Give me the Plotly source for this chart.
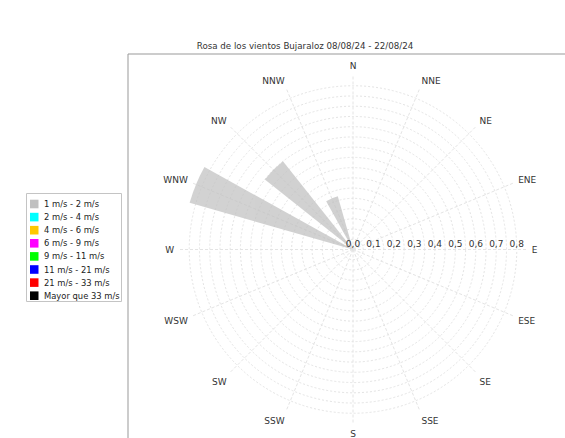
import plotly.graph_objects as go

# ---- data ----
directions = ["N", "NNE", "NE", "ENE", "E", "ESE", "SE", "SSE",
              "S", "SSW", "SW", "WSW", "W", "WNW", "NW", "NNW"]

speed_labels = ["1 m/s - 2 m/s", "2 m/s - 4 m/s", "4 m/s - 6 m/s", "6 m/s - 9 m/s",
                "9 m/s - 11 m/s", "11 m/s - 21 m/s", "21 m/s - 33 m/s", "Mayor que 33 m/s"]
speed_colors = ["#C0C0C0", "#00FFFF", "#FFC800", "#FF00FF",
                "#00FF00", "#0000FF", "#FF0000", "#000000"]

freq_1_2 = [0, 0, 0, 0, 0, 0, 0, 0, 0, 0, 0, 0, 0, 0.83, 0.55, 0.27]
freq_2_4 = [0, 0, 0, 0, 0, 0, 0, 0, 0, 0, 0, 0, 0, 0, 0, 0]
freq_4_6 = [0, 0, 0, 0, 0, 0, 0, 0, 0, 0, 0, 0, 0, 0, 0, 0]
freq_6_9 = [0, 0, 0, 0, 0, 0, 0, 0, 0, 0, 0, 0, 0, 0, 0, 0]
freq_9_11 = [0, 0, 0, 0, 0, 0, 0, 0, 0, 0, 0, 0, 0, 0, 0, 0]
freq_11_21 = [0, 0, 0, 0, 0, 0, 0, 0, 0, 0, 0, 0, 0, 0, 0, 0]
freq_21_33 = [0, 0, 0, 0, 0, 0, 0, 0, 0, 0, 0, 0, 0, 0, 0, 0]
freq_33 = [0, 0, 0, 0, 0, 0, 0, 0, 0, 0, 0, 0, 0, 0, 0, 0]

radial_tickvals = [0, 0.05, 0.1, 0.15, 0.2, 0.25, 0.3, 0.35, 0.4,
                   0.45, 0.5, 0.55, 0.6, 0.65, 0.7, 0.75, 0.8, 0.85]
radial_ticktext = ["0,0", "", "0,1", "", "0,2", "", "0,3", "", "0,4",
                   "", "0,5", "", "0,6", "", "0,7", "", "0,8", ""]

title_text = "Rosa de los vientos Bujaraloz 08/08/24 - 22/08/24"

series = [freq_1_2, freq_2_4, freq_4_6, freq_6_9, freq_9_11, freq_11_21, freq_21_33, freq_33]

FONT = "DejaVu Sans"
W, H = 565, 438
cx, cy, R = 353, 249.5, 174


def px(x):
    return x / W


def py(y):
    return 1 - y / H


fig = go.Figure()
for name, col, vals in zip(speed_labels, speed_colors, series):
    fig.add_trace(go.Barpolar(
        r=vals, theta=directions, name=name,
        width=0.58,
        marker=dict(color=col, line=dict(width=0)),
        opacity=1.0 if name != speed_labels[0] else 0.72,
        showlegend=False,
    ))

shapes = [
    dict(type="line", xref="paper", yref="paper", x0=px(128), x1=px(128), y0=0, y1=py(54),
         line=dict(color="#999999", width=1)),
    dict(type="line", xref="paper", yref="paper", x0=px(128), x1=1, y0=py(54), y1=py(54),
         line=dict(color="#999999", width=1)),
    # legend box
    dict(type="rect", xref="paper", yref="paper", x0=px(26.5), x1=px(121.5), y0=py(193.5), y1=py(301.5),
         line=dict(color="#c4c4c4", width=1), fillcolor="white", layer="below"),
]
annotations = []
row0, row_step = 204, 13.1
for i, (name, col) in enumerate(zip(speed_labels, speed_colors)):
    yc = row0 + i * row_step
    shapes.append(dict(type="rect", xref="paper", yref="paper",
                       x0=px(30), x1=px(38.5), y0=py(yc - 4.3), y1=py(yc + 4.3),
                       line=dict(width=0), fillcolor=col))
    annotations.append(dict(xref="paper", yref="paper", x=px(41.5), y=py(yc), text=name,
                            showarrow=False, xanchor="left", yanchor="middle",
                            font=dict(family=FONT, size=8.4, color="#222222")))

fig.update_layout(
    width=W, height=H,
    margin=dict(l=0, r=0, t=0, b=0),
    paper_bgcolor="white",
    plot_bgcolor="white",
    showlegend=False,
    font=dict(family=FONT, size=9, color="#333333"),
    title=dict(text=title_text, x=305 / W, xanchor="center", y=py(46), yanchor="middle",
               font=dict(family=FONT, size=8.7, color="#333333")),
    polar=dict(
        domain=dict(x=[px(cx - R), px(cx + R)], y=[(H - cy - R) / H, (H - cy + R) / H]),
        bgcolor="white",
        barmode="stack",
        radialaxis=dict(
            range=[0, 0.85], tickvals=radial_tickvals, ticktext=radial_ticktext,
            angle=0, side="counterclockwise", showline=False, ticks="",
            gridcolor="#e4e4e4", griddash="2px,2px", gridwidth=1,
            tickfont=dict(family=FONT, size=9, color="#333333"),
        ),
        angularaxis=dict(
            type="category", categoryarray=directions,
            direction="clockwise", rotation=90,
            showline=False, ticks="outside", ticklen=2.5, tickcolor="rgba(0,0,0,0)",
            gridcolor="#e4e4e4", griddash="3px,2px", gridwidth=1,
            tickfont=dict(family=FONT, size=9, color="#333333"),
        ),
    ),
    shapes=shapes,
    annotations=annotations,
)

fig.write_html("out.html")
